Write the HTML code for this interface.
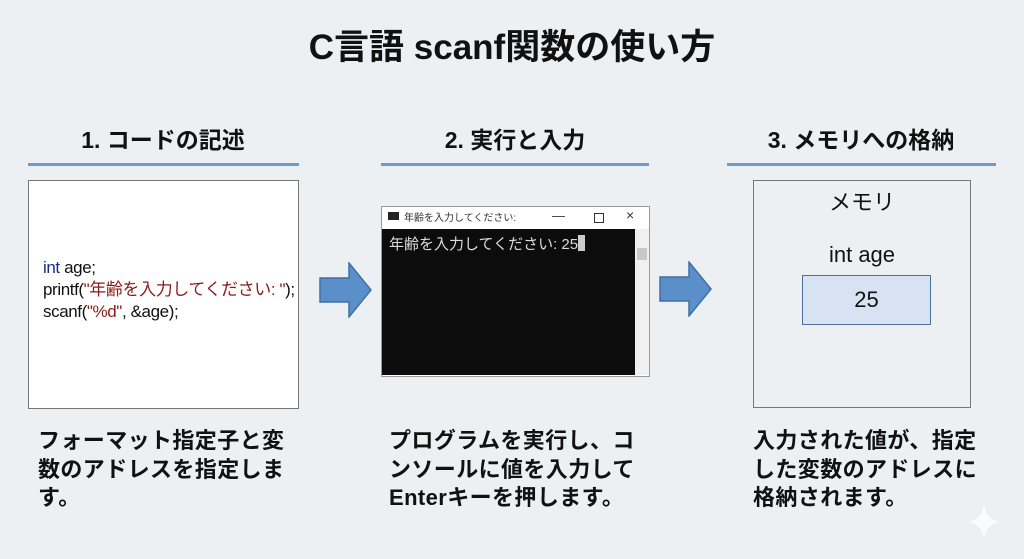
<!DOCTYPE html>
<html><head><meta charset="utf-8"><style>
body{margin:0;width:1024px;height:559px;background:#edf0f3;position:relative;overflow:hidden;font-family:"Liberation Sans","Noto Sans CJK JP",sans-serif;color:#111}
.a{position:absolute}
.title{left:0;width:1024px;top:19px;text-align:center;font-size:35px;font-weight:bold}
.h{font-size:23px;font-weight:bold;text-align:center;top:121px}
.ul{height:3px;background:#6e9cc6;top:163px}
.desc{font-size:22px;font-weight:bold;line-height:28.5px;top:427px;letter-spacing:0.4px}
.arrow{width:54px;height:56px}
</style></head><body>
<div class="a title">C言語 scanf関数の使い方</div>

<div class="a h" style="left:28px;width:270px">1. コードの記述</div>
<div class="a h" style="left:381px;width:268px">2. 実行と入力</div>
<div class="a h" style="left:727px;width:268px">3. メモリへの格納</div>
<div class="a ul" style="left:28px;width:271px"></div>
<div class="a ul" style="left:381px;width:268px"></div>
<div class="a ul" style="left:727px;width:269px"></div>

<div class="a" style="left:28px;top:180px;width:269px;height:227px;background:#fff;border:1px solid #777"></div>
<div class="a" style="left:43px;top:257px;font-size:17px;line-height:22px;letter-spacing:-0.4px">
<span style="color:#1a2a8a">int</span> age;<br>printf(<span style="color:#8b1a1a">"年齢を入力してください: "</span>);<br>scanf(<span style="color:#8b1a1a">"%d"</span>, &amp;age);
</div>

<svg class="a arrow" style="left:319px;top:262px" viewBox="0 0 54 56"><polygon points="1,16 30,16 30,1 52,28 30,55 30,40 1,40" fill="#5b8fc9" stroke="#3f6fa8" stroke-width="1.5"/></svg>
<svg class="a arrow" style="left:659px;top:261px" viewBox="0 0 54 56"><polygon points="1,16 30,16 30,1 52,28 30,55 30,40 1,40" fill="#5b8fc9" stroke="#3f6fa8" stroke-width="1.5"/></svg>

<div class="a" style="left:381px;top:206px;width:267px;height:169px;background:#fff;border:1px solid #999">
  <div class="a" style="left:6px;top:5px;width:11px;height:8px;background:#222"></div>
  <div class="a" style="left:22px;top:2px;font-size:10px;color:#333">年齢を入力してください:</div>
  <div class="a" style="left:170px;top:1px;font-size:13px;color:#333">&#8212;</div>
  <div class="a" style="left:212px;top:6px;width:8px;height:8px;border:1px solid #333"></div>
  <div class="a" style="left:244px;top:0px;font-size:14px;color:#333">×</div>
  <div class="a" style="left:0;top:22px;width:253px;height:146px;background:#0c0c0c"></div>
  <div class="a" style="left:253px;top:22px;width:14px;height:146px;background:#f0f0f0"></div>
  <div class="a" style="left:255px;top:41px;width:10px;height:12px;background:#c8c8c8"></div>
  <div class="a" style="left:7px;top:26px;font-size:15px;color:#dcdcdc;white-space:nowrap">年齢を入力してください: 25<span style="display:inline-block;width:7px;height:16px;background:#ccc;vertical-align:-2px"></span></div>
</div>

<div class="a" style="left:753px;top:180px;width:216px;height:226px;border:1px solid #777"></div>
<div class="a" style="left:753px;width:218px;top:185px;text-align:center;font-size:22px">メモリ</div>
<div class="a" style="left:753px;width:218px;top:242px;text-align:center;font-size:22px">int age</div>
<div class="a" style="left:802px;top:275px;width:127px;height:48px;background:#d7e3f3;border:1px solid #4e6e9c;text-align:center;font-size:22px;line-height:48px">25</div>

<div class="a desc" style="left:38px">フォーマット指定子と変<br>数のアドレスを指定しま<br>す。</div>
<div class="a desc" style="left:389px">プログラムを実行し、コ<br>ンソールに値を入力して<br>Enterキーを押します。</div>
<div class="a desc" style="left:753px">入力された値が、指定<br>した変数のアドレスに<br>格納されます。</div>

<svg class="a" style="left:966px;top:502px" width="36" height="40" viewBox="0 0 36 40"><path d="M18 2 Q20 18 34 20 Q20 22 18 38 Q16 22 2 20 Q16 18 18 2Z" fill="#fafbfc"/></svg>
</body></html>
